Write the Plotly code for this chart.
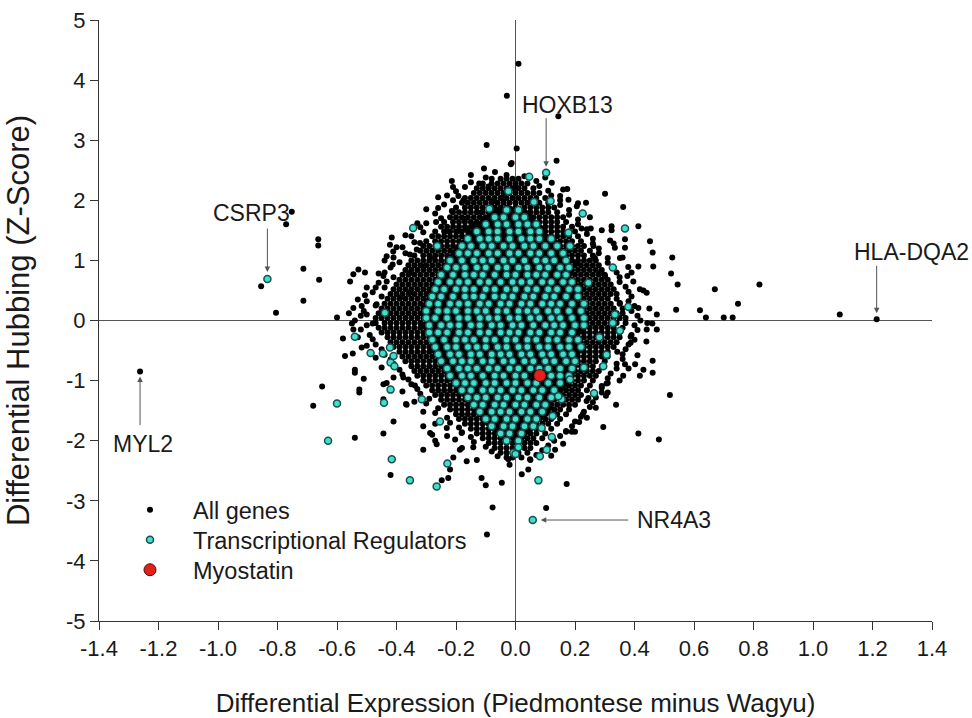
import plotly.graph_objects as go

# ------------------------------------------------------------------
# DATA
# ------------------------------------------------------------------
# Dense part of the "All genes" cloud, read row by row.
# Each line: "y: x x x ..." with both values multiplied by 100.
ALL_GENES_CLOUD = """
236: -8 -5 -3 -1 1
228: -11 -8 -6 -4 -2 0 2 4
220: -13 -11 -9 -7 -5 -3 -1 1 3 6
212: -14 -12 -10 -8 -6 -4 -2 0 2 4 6 8
204: -17 -15 -13 -11 -9 -7 -5 -3 -1 1 3 5 7 10
196: -18 -16 -14 -12 -10 -8 -6 -4 -2 0 2 4 6 8 11
188: -20 -17 -15 -13 -11 -9 -7 -5 -3 0 3 5 7 9 11 13
180: -21 -19 -17 -15 -13 -11 -9 -7 -5 -1 3 5 7 9 11 14
172: -22 -20 -18 -16 -14 -12 -10 -8 -6 -2 2 4 6 8 10 12 14 16
164: -24 -21 -19 -17 -15 -13 -11 -9 -5 -1 3 6 8 10 12 14 17
156: -25 -23 -21 -19 -17 -15 -13 -11 -7 -3 1 5 8 10 12 14 16 19
148: -27 -24 -22 -20 -18 -16 -14 -12 -8 -4 0 4 8 10 12 14 16 18 20
140: -28 -26 -24 -22 -20 -18 -16 -14 -10 -6 -2 2 6 10 12 14 16 18 21
132: -30 -27 -25 -23 -21 -19 -17 -15 -11 -7 -3 1 5 9 11 13 15 17 19 22
124: -31 -29 -27 -25 -23 -21 -19 -17 -13 -9 -5 -1 3 7 11 13 15 17 19 21 23
116: -32 -30 -28 -26 -24 -22 -20 -18 -14 -10 -6 -2 2 6 10 14 16 18 20 22 25
108: -34 -31 -29 -27 -25 -23 -21 -19 -15 -11 -7 -3 1 5 9 13 15 17 19 21 23 26
100: -35 -33 -31 -29 -27 -25 -23 -21 -17 -13 -9 -5 -1 3 7 11 15 17 19 21 23 25 27
92: -36 -34 -32 -30 -28 -26 -24 -22 -20 -16 -12 -8 -4 0 4 8 12 16 18 20 22 24 26 28
84: -37 -35 -33 -31 -29 -27 -25 -23 -21 -17 -13 -9 -5 -1 3 7 11 15 17 19 21 23 25 27 29
76: -38 -36 -34 -32 -30 -28 -26 -24 -20 -16 -12 -8 -4 0 4 8 12 16 18 20 22 24 26 28 30
68: -39 -37 -35 -33 -31 -29 -27 -25 -21 -17 -13 -9 -5 -1 3 7 11 15 19 21 23 25 27 29 31
60: -40 -38 -36 -34 -32 -30 -28 -26 -24 -20 -16 -12 -8 -4 0 4 8 12 16 18 20 22 24 26 28 30 32
52: -41 -39 -37 -35 -33 -31 -29 -27 -25 -21 -17 -13 -9 -5 -1 3 7 11 15 19 21 23 25 27 29 31 33
44: -42 -40 -38 -36 -34 -32 -30 -28 -26 -22 -18 -14 -10 -6 -2 2 6 10 14 18 20 22 24 26 28 30 32 34
36: -43 -41 -39 -37 -35 -33 -31 -29 -27 -23 -19 -15 -11 -7 -3 1 5 9 13 17 21 23 25 27 29 31 34
28: -44 -42 -40 -38 -36 -34 -32 -30 -28 -24 -20 -16 -12 -8 -4 0 4 8 12 16 20 22 24 26 28 30 32 35
20: -45 -43 -41 -39 -37 -35 -33 -31 -29 -25 -21 -17 -13 -9 -5 -1 3 7 11 15 19 21 23 25 27 29 31 33 36
12: -46 -44 -42 -40 -38 -36 -34 -32 -30 -28 -24 -20 -16 -12 -8 -4 0 4 8 12 16 20 22 24 26 28 30 32 34 36
4: -47 -45 -43 -41 -39 -37 -35 -33 -31 -29 -25 -21 -17 -13 -9 -5 -1 3 7 11 15 19 21 23 25 27 29 31 33 35 37
-4: -47 -44 -42 -40 -38 -36 -34 -32 -30 -28 -24 -20 -16 -12 -8 -4 0 4 8 12 16 20 22 24 26 28 30 32 34 37
-12: -46 -44 -42 -40 -38 -36 -34 -32 -30 -28 -24 -20 -16 -12 -8 -4 0 4 8 12 16 21 23 25 27 29 31 33 36
-20: -45 -43 -41 -39 -37 -35 -33 -31 -29 -27 -23 -19 -15 -11 -7 -3 1 5 9 13 17 21 23 25 27 29 31 33 35
-28: -43 -41 -39 -37 -35 -33 -31 -29 -27 -25 -21 -17 -13 -9 -5 -1 3 7 11 15 19 21 23 25 27 29 31 33 35
-36: -42 -40 -38 -36 -34 -32 -30 -28 -26 -22 -18 -14 -10 -6 -2 2 6 10 14 18 20 22 24 26 28 30 32 34
-44: -41 -39 -37 -35 -33 -31 -29 -27 -25 -21 -17 -13 -9 -5 -1 3 7 11 15 19 21 23 25 27 29 31 33
-52: -39 -37 -35 -33 -31 -29 -27 -25 -23 -19 -15 -11 -7 -3 1 5 9 13 17 19 21 23 25 27 29 31
-60: -38 -36 -34 -32 -30 -28 -26 -24 -20 -16 -12 -8 -4 0 4 8 12 16 19 21 23 25 27 29 31
-68: -37 -35 -33 -31 -29 -27 -25 -23 -19 -15 -11 -7 -3 1 5 9 13 17 19 21 23 25 27 30
-76: -35 -33 -31 -29 -27 -25 -23 -21 -17 -13 -9 -5 -1 3 7 11 15 18 20 22 24 26 29
-84: -34 -32 -30 -28 -26 -24 -22 -20 -16 -12 -8 -4 0 4 8 12 16 18 20 22 24 26 28
-92: -33 -31 -29 -27 -25 -23 -21 -17 -13 -9 -5 -1 3 7 11 15 17 19 21 23 25 27
-100: -31 -29 -27 -25 -23 -21 -19 -15 -11 -7 -3 1 5 9 13 15 17 19 21 23 26
-108: -30 -28 -26 -24 -22 -20 -18 -14 -10 -6 -2 2 6 10 14 16 18 20 22 25
-116: -28 -26 -24 -22 -20 -18 -16 -12 -8 -4 0 4 8 12 13 15 17 19 21 24
-124: -27 -25 -23 -21 -19 -17 -15 -11 -7 -3 1 5 9 12 14 16 18 20 22
-132: -25 -23 -21 -19 -17 -15 -13 -9 -5 -1 3 7 11 13 15 17 19 21
-140: -24 -22 -20 -18 -16 -14 -12 -8 -4 0 4 8 10 12 14 16 18 20
-148: -22 -20 -18 -16 -14 -12 -10 -6 -2 2 6 9 11 13 15 18
-156: -20 -18 -16 -14 -12 -10 -6 -2 2 6 8 10 12 14 17
-164: -19 -17 -15 -13 -11 -9 -5 -1 3 6 8 10 12 15
-172: -17 -15 -13 -11 -9 -7 -3 1 5 7 9 11 14
-180: -15 -13 -11 -9 -7 -5 -1 3 5 7 9 12
-188: -13 -11 -9 -7 -5 -2 1 3 5 7 10
-196: -11 -9 -7 -5 -3 0 2 4 6 9
-204: -9 -7 -5 -3 -1 1 3 5 7
-212: -7 -5 -3 -1 1 3 5
-220: -5 -3 -1 1 4
-228: -3 -1 2
"""

# Black genes packed between the regulators in the middle of the cloud (same format)
ALL_GENES_CORE = """
184: -5 -2 1
176: -8 -5 -2 1 4
168: -10 -7 -4 -1 2 5
160: -11 -8 -5 -2 1 4 7
152: -13 -10 -7 -4 -1 2 5 8
144: -15 -12 -9 -6 -3 0 3 6 9
136: -16 -13 -10 -7 -4 -1 2 5 8 11
128: -17 -14 -11 -8 -5 -2 1 4 7 10 13
120: -19 -16 -13 -10 -7 -4 -1 2 5 8 11 14
112: -20 -17 -14 -11 -8 -5 -2 1 4 7 10 13 16
104: -21 -18 -15 -12 -9 -6 -3 0 3 6 9 12 15
96: -22 -19 -16 -13 -10 -7 -4 -1 2 5 8 11 14 17
88: -23 -20 -17 -14 -11 -8 -5 -2 1 4 7 10 13 16
80: -24 -21 -18 -15 -12 -9 -6 -3 0 3 6 9 12 15 18
72: -25 -22 -19 -16 -13 -10 -7 -4 -1 2 5 8 11 14 17
64: -26 -23 -20 -17 -14 -11 -8 -5 -2 1 4 7 10 13 16 19
56: -27 -24 -21 -18 -15 -12 -9 -6 -3 0 3 6 9 12 15 18
48: -28 -25 -22 -19 -16 -13 -10 -7 -4 -1 2 5 8 11 14 17 20
40: -27 -24 -21 -18 -15 -12 -9 -6 -3 0 3 6 9 12 15 18 21
32: -29 -26 -23 -20 -17 -14 -11 -8 -5 -2 1 4 7 10 13 16 19
24: -30 -27 -24 -21 -18 -15 -12 -9 -6 -3 0 3 6 9 12 15 18 21
16: -29 -26 -23 -20 -17 -14 -11 -8 -5 -2 1 4 7 10 13 16 19 22
8: -30 -27 -24 -21 -18 -15 -12 -9 -6 -3 0 3 6 9 12 15 18 21
0: -29 -26 -23 -20 -17 -14 -11 -8 -5 -2 1 4 7 10 13 16 19 22
-8: -30 -27 -24 -21 -18 -15 -12 -9 -6 -3 0 3 6 9 12 15 18 21
-16: -29 -26 -23 -20 -17 -14 -11 -8 -5 -2 1 4 7 10 13 16 19 22
-24: -28 -25 -22 -19 -16 -13 -10 -7 -4 -1 2 5 8 11 14 17 20
-32: -27 -24 -21 -18 -15 -12 -9 -6 -3 0 3 6 9 12 15 18 21
-40: -26 -23 -20 -17 -14 -11 -8 -5 -2 1 4 7 10 13 16 19
-48: -27 -24 -21 -18 -15 -12 -9 -6 -3 0 3 6 9 12 15 18 21
-56: -25 -22 -19 -16 -13 -10 -7 -4 -1 2 5 8 11 14 17 20
-64: -24 -21 -18 -15 -12 -9 -6 -3 0 3 6 9 12 15 18
-72: -23 -20 -17 -14 -11 -8 -5 -2 1 4 7 10 13 16 19
-80: -22 -19 -16 -13 -10 -7 -4 -1 2 5 8 11 14 17
-88: -21 -18 -15 -12 -9 -6 -3 0 3 6 9 12 15 18
-96: -20 -17 -14 -11 -8 -5 -2 1 4 7 10 13 16
-104: -19 -16 -13 -10 -7 -4 -1 2 5 8 11 14 17
-112: -18 -15 -12 -9 -6 -3 0 3 6 9 12 15
-120: -17 -14 -11 -8 -5 -2 1 4 7 10 13
-128: -15 -12 -9 -6 -3 0 3 6 9 12
-136: -14 -11 -8 -5 -2 1 4 7 10
-144: -13 -10 -7 -4 -1 2 5 8 11
-152: -11 -8 -5 -2 1 4 7 10
-160: -10 -7 -4 -1 2 5 8
-168: -9 -6 -3 0 3 6
-176: -8 -5 -2 1 4
-184: -6 -3 0 3
-192: -4 -1 2
"""

# Scattered "All genes" points around and outside the dense cloud
ALL_GENES_X = [
    # upper-left outskirts
    -0.097, 0.004, -0.106, -0.069, -0.016, -0.214, -0.122, -0.091, -0.192, -0.175,
    -0.214, -0.267, -0.416, -0.422, -0.411, -0.433, -0.413, -0.528, -0.506, -0.545,
    -0.556, -0.444, -0.433, -0.506, -0.545, -0.517, -0.467, -0.388, -0.355, -0.332,
    -0.355, -0.321, -0.231, -0.192, -0.166, -0.136, -0.170, -0.114, -0.075, -0.046,
    0.000, -0.287, -0.310, -0.355,
    # upper-right outskirts
    0.138, -0.013, 0.122, 0.174, 0.301, 0.362, 0.413, 0.323, 0.323, 0.253,
    0.222, 0.237, 0.206, 0.150, 0.178, 0.318, 0.368, 0.452, 0.368, 0.334,
    0.461, 0.527, 0.351, 0.463, 0.523, 0.545, 0.413, 0.379, 0.376, 0.396,
    0.418, 0.441, 0.413, 0.540, 0.475, 0.351, 0.267, 0.262, 0.284, 0.301, 0.206,
    # lower-left outskirts
    -0.545, -0.573, -0.547, -0.517, -0.540, -0.540, -0.510, -0.525, -0.525, -0.444,
    -0.433, -0.444, -0.368, -0.338, -0.377, -0.410, -0.444, -0.540, -0.420, -0.310,
    -0.280, -0.270, -0.220, -0.248, -0.226, -0.209, -0.187, -0.164, -0.142, -0.114,
    -0.100, -0.077, -0.046, -0.024, -0.287, -0.231, -0.203, -0.181, -0.310, -0.265, -0.366,
    # lower-right outskirts
    0.519, 0.413, 0.482, 0.295, 0.338, 0.304, 0.245, 0.226, 0.214, 0.189,
    0.170, 0.133, 0.172, 0.103, 0.021, 0.043, 0.049, 0.368, 0.402, 0.430,
    0.461, 0.461, 0.362, 0.418, 0.387, 0.387, 0.342, 0.443, 0.441, 0.475,
    0.306, 0.290, 0.239,
    # far outliers
    -1.262, -0.855, -0.752, -0.771, -0.663, -0.663, -0.713, -0.660, -0.805, -0.713,
    -0.680, -0.650, 0.144, 0.010, -0.029, 1.214, 1.090, 0.820, 0.748, 0.730,
    0.670, 0.620, 0.640, 0.700, -0.096, -0.580, -0.600, -0.480, -0.500, -0.470,
    # fringe just outside the dense edge, left side
    -0.03, -0.10, -0.15, -0.17, -0.20, -0.23, -0.21, -0.24, -0.26, -0.27,
    -0.25, -0.30, -0.32, -0.31, -0.35, -0.34, -0.38, -0.37, -0.41, -0.39,
    -0.42, -0.44, -0.41, -0.46, -0.44, -0.48, -0.45, -0.50, -0.47, -0.51,
    -0.52, -0.54, -0.50, -0.52, -0.49, -0.48, -0.47, -0.45, -0.44, -0.42,
    -0.41, -0.39, -0.38, -0.36, -0.35, -0.33, -0.32, -0.29, -0.30, -0.26,
    -0.27, -0.23, -0.22, -0.19, -0.18, -0.15, -0.14, -0.10, -0.08, -0.06, -0.02,
    # fringe just outside the dense edge, right side
    0.03, 0.07, 0.08, 0.11, 0.12, 0.15, 0.15, 0.18, 0.18, 0.21,
    0.21, 0.24, 0.24, 0.26, 0.26, 0.28, 0.28, 0.31, 0.31, 0.33,
    0.34, 0.35, 0.35, 0.37, 0.38, 0.39, 0.38, 0.40, 0.39, 0.41,
    0.42, 0.40, 0.41, 0.39, 0.40, 0.38, 0.37, 0.36, 0.36, 0.34,
    0.34, 0.32, 0.31, 0.31, 0.29, 0.29, 0.27, 0.26, 0.25, 0.23,
    0.22, 0.20, 0.19, 0.17, 0.15, 0.13, 0.11, 0.09, 0.07, 0.05,
    # looser halo further out
    -0.50, -0.53, -0.56, -0.55, -0.53, -0.50, -0.47, -0.45, -0.41, -0.38,
    -0.34, -0.31, -0.27, -0.23, -0.18, -0.13, -0.46, -0.44, -0.40, -0.37,
    -0.33, -0.30, -0.26, -0.21, -0.15,
    0.43, 0.45, 0.46, 0.44, 0.41, 0.38, 0.35, 0.31, 0.27, 0.24,
    0.20, 0.16, 0.12, 0.39, 0.36, 0.33, 0.29, 0.25, 0.21, 0.16, 0.10,
]
ALL_GENES_Y = [
    2.92, 2.86, 2.53, 2.47, 2.60, 2.32, 2.28, 2.23, 2.07, 2.00,
    1.82, 1.64, 1.38, 1.26, 1.15, 1.07, 0.93, 0.85, 0.80, 0.77,
    0.65, 0.74, 0.65, 0.42, 0.21, 0.24, 0.27, 0.38, 0.46, 1.18,
    1.10, 1.29, 1.49, 1.49, 1.53, 1.60, 1.69, 1.80, 1.99, 2.04,
    2.23, 1.04, 0.90, 0.79,
    2.66, 2.62, 2.29, 2.19, 2.11, 1.89, 1.57, 1.57, 1.50, 1.53,
    1.53, 1.96, 1.90, 2.07, 2.01, 1.33, 1.35, 1.32, 1.21, 1.21,
    1.13, 1.05, 1.04, 0.90, 0.78, 0.60, 0.90, 0.89, 0.74, 0.65,
    0.52, 0.46, 0.21, 0.18, 0.10, 0.29, 1.04, 1.24, 0.79, 0.74, 0.96,
    -0.15, -0.59, -0.55, -0.45, -0.82, -0.87, -0.97, -1.15, -1.20, -1.06,
    -1.04, -1.31, -1.39, -1.08, -0.95, -1.68, -1.88, -1.95, -2.57, -2.15,
    -1.90, -2.00, -2.48, -2.66, -2.62, -2.28, -2.15, -2.34, -2.11, -2.62,
    -2.74, -3.11, -2.70, -2.31, -1.87, -1.79, -1.98, -1.87, -1.76, -2.06, -1.40,
    -1.24, -1.88, -1.98, -1.77, -1.40, -1.25, -1.29, -1.56, -1.69, -1.85,
    -1.85, -2.15, -2.72, -3.12, -2.56, -2.48, -2.31, -0.73, -0.73, -0.82,
    -0.87, -0.67, -0.92, -0.92, -0.37, -0.27, -0.52, -0.04, -0.15, -0.15,
    -1.05, -1.09, -1.34,
    -0.85, 0.57, 1.81, 1.60, 1.35, 1.25, 0.86, 0.68, 0.13, 0.33,
    -1.42, -1.10, 3.40, 4.27, 3.74, 0.02, 0.10, 0.60, 0.28, 0.05,
    0.52, 0.17, 0.05, 0.05, -3.56, -0.30, 0.05, -0.05, 0.10, 0.55,
    2.42, 2.38, 2.30, 2.22, 2.15, 2.08, 2.00, 1.93, 1.87, 1.78,
    1.70, 1.62, 1.55, 1.47, 1.40, 1.30, 1.22, 1.12, 1.05, 0.97,
    0.88, 0.80, 0.72, 0.63, 0.55, 0.47, 0.40, 0.32, 0.25, 0.16,
    0.08, 0.00, -0.08, -0.15, -0.24, -0.31, -0.40, -0.48, -0.57, -0.65,
    -0.72, -0.82, -0.90, -0.98, -1.06, -1.14, -1.22, -1.30, -1.38, -1.46,
    -1.54, -1.62, -1.70, -1.78, -1.86, -1.94, -2.02, -2.10, -2.18, -2.26, -2.40,
    2.40, 2.32, 2.24, 2.16, 2.08, 2.00, 1.92, 1.84, 1.76, 1.68,
    1.60, 1.52, 1.44, 1.36, 1.28, 1.20, 1.12, 1.04, 0.96, 0.88,
    0.80, 0.72, 0.64, 0.56, 0.48, 0.40, 0.32, 0.24, 0.16, 0.08,
    0.00, -0.08, -0.16, -0.24, -0.32, -0.40, -0.48, -0.56, -0.64, -0.72,
    -0.80, -0.88, -0.96, -1.04, -1.12, -1.20, -1.28, -1.36, -1.44, -1.52,
    -1.60, -1.68, -1.76, -1.84, -1.92, -2.00, -2.08, -2.16, -2.24, -2.32,
    0.55, 0.35, 0.12, -0.05, -0.28, -0.42, -0.62, -0.78, -0.95, -1.18,
    -1.35, -1.52, -1.72, -1.92, -2.12, -2.32, 0.78, 1.00, 1.22, 1.42,
    1.62, 1.85, 2.05, 2.22, 2.42,
    0.50, 0.20, -0.05, -0.35, -0.58, -0.80, -1.00, -1.20, -1.45, -1.62,
    -1.85, -2.05, -2.25, 0.80, 1.05, 1.28, 1.50, 1.72, 1.95, 2.18, 2.38,
]

# Dense core of the Transcriptional Regulators, row by row ("y: x x x", x100)
TR_CLOUD = """
184: -3 1
172: -7 -4 0 3
160: -10 -6 -3 1 4 7
148: -13 -9 -6 -2 1 5 8
136: -16 -12 -9 -6 -2 2 5 8 12
124: -18 -15 -11 -8 -4 -1 3 6 10 14
112: -19 -16 -13 -9 -6 -2 1 5 8 12 16
100: -22 -18 -14 -11 -8 -4 -1 3 7 10 13 17
88: -23 -20 -17 -13 -10 -6 -3 1 4 8 11 15 18
76: -25 -21 -17 -14 -11 -7 -3 0 4 7 10 14 17
64: -26 -22 -19 -16 -12 -9 -5 -1 2 5 9 12 16 19
52: -27 -24 -20 -17 -14 -10 -7 -3 0 4 7 11 14 18 21
40: -28 -25 -21 -17 -14 -11 -7 -4 -1 3 6 10 13 17 21
28: -29 -26 -22 -19 -16 -12 -9 -5 -2 2 5 9 12 15 19 23
16: -30 -26 -23 -20 -16 -13 -10 -6 -3 1 4 7 11 14 18 22
4: -30 -27 -23 -19 -16 -12 -9 -6 -2 1 5 8 12 15 19 23
-8: -29 -25 -22 -19 -15 -12 -8 -5 -1 2 6 10 13 16 20 23
-20: -29 -26 -23 -19 -16 -12 -9 -5 -2 1 5 8 12 15 19
-32: -28 -24 -20 -17 -14 -10 -7 -3 0 4 7 11 14 18 21
-44: -27 -23 -20 -16 -13 -10 -6 -3 1 4 8 11 15 18 22
-56: -26 -22 -19 -15 -12 -8 -5 -2 2 5 9 12 16 19
-68: -25 -21 -18 -15 -11 -8 -4 -1 3 6 10 13 17 20
-80: -23 -19 -16 -13 -9 -6 -2 1 5 8 11 15 19
-92: -22 -18 -15 -11 -7 -4 0 3 12 15 18
-104: -20 -17 -14 -10 -7 -3 0 4 7 11 15
-116: -18 -15 -11 -8 -5 -1 2 6 9 13
-128: -16 -13 -10 -6 -3 1 4 8 12
-140: -14 -11 -7 -4 0 3 7 10
-152: -12 -8 -5 -2 2 5 9
-164: -10 -7 -3 0 4 7
-176: -8 -4 -1 3 6
-188: -5 -2 2
-200: -3 1
"""

# Scattered Transcriptional Regulators
TR_X = [
    -0.344, -0.439, -0.263, -0.088, -0.024,
    0.103, 0.046, 0.368, 0.226, 0.118, 0.062, 0.327, 0.379, 0.178, 0.183, 0.245, 0.334,
    -0.540, -0.487, -0.446, -0.422, -0.410, -0.420, -0.407, -0.420, -0.442, -0.315,
    -0.416, -0.355, -0.265, -0.254, -0.229, -0.007,
    0.264, 0.125, 0.122, 0.105, 0.082, 0.077, 0.000, 0.010, 0.295, 0.230,
    0.306, 0.282, 0.351, 0.327, 0.183, 0.155, 0.144, 0.088,
    -0.834, 0.058, -0.600, -0.630,
]
TR_Y = [
    1.54, 0.13, 1.24, 1.86, 2.15,
    2.46, 2.39, 1.53, 1.78, 1.99, 1.97, 0.88, 0.23, 1.46, 1.24, 0.63, 0.10,
    -0.27, -0.54, -0.55, -0.45, -0.59, -0.70, -0.76, -1.15, -1.37, -1.31,
    -2.31, -2.66, -2.76, -1.68, -2.38, -2.20,
    -1.21, -1.59, -1.94, -2.15, -2.26, -2.66, -2.22, -2.11, -0.76, -0.78,
    -0.57, -0.28, -0.17, -0.04, -0.98, -1.31, -1.26, -1.79,
    0.69, -3.32, -1.38, -2.00,
]

MYOSTATIN_X = [0.082]
MYOSTATIN_Y = [-0.915]

# Genes that carry a text label
LABEL_GENES = ["MYL2", "CSRP3", "HOXB13", "HLA-DQA2", "NR4A3"]
LABEL_X = [-1.262, -0.834, 0.103, 1.214, 0.058]
LABEL_Y = [-0.85, 0.69, 2.46, 0.02, -3.32]

X_TICKS = [-1.4, -1.2, -1.0, -0.8, -0.6, -0.4, -0.2, 0.0, 0.2, 0.4, 0.6, 0.8, 1.0, 1.2, 1.4]
X_TICK_LABELS = ["-1.4", "-1.2", "-1.0", "-0.8", "-0.6", "-0.4", "-0.2", "0.0",
                 "0.2", "0.4", "0.6", "0.8", "1.0", "1.2", "1.4"]
Y_TICKS = [-5, -4, -3, -2, -1, 0, 1, 2, 3, 4, 5]
Y_TICK_LABELS = ["-5", "-4", "-3", "-2", "-1", "0", "1", "2", "3", "4", "5"]


def parse_rows(text):
    xs, ys = [], []
    for line in text.strip().splitlines():
        yv, rest = line.split(":")
        for v in rest.split():
            xs.append(int(v) / 100.0)
            ys.append(int(yv) / 100.0)
    return xs, ys


cx, cy = parse_rows(ALL_GENES_CLOUD)
kx, ky = parse_rows(ALL_GENES_CORE)
all_x = cx + ALL_GENES_X
all_y = cy + ALL_GENES_Y
tx, ty = parse_rows(TR_CLOUD)
tr_x = tx + TR_X
tr_y = ty + TR_Y

FONT = "Liberation Sans, Arial, sans-serif"
TEXT_COLOR = "#1a1a1a"

fig = go.Figure()
# genes hidden under the regulators: drawn a bit larger so they close every gap
fig.add_trace(go.Scatter(
    x=kx, y=ky, mode="markers", name="All genes", legendgroup="all",
    showlegend=False, hoverinfo="skip",
    marker=dict(size=9, color="black", line=dict(width=0)),
))
fig.add_trace(go.Scatter(
    x=all_x, y=all_y, mode="markers", name="All genes", legend="legend",
    legendgroup="all",
    marker=dict(size=6, color="black", line=dict(width=0)),
))
fig.add_trace(go.Scatter(
    x=tr_x, y=tr_y, mode="markers", name="Transcriptional Regulators", legend="legend2",
    marker=dict(size=7, color="#3fe0cc", line=dict(width=1.5, color="#1b4f4f")),
))
fig.add_trace(go.Scatter(
    x=MYOSTATIN_X, y=MYOSTATIN_Y, mode="markers", name="Myostatin", legend="legend3",
    marker=dict(size=12, color="#e3201b", line=dict(width=1, color="#5a0a0a")),
))

# arrows (tail offsets in px) and label offsets (px) for each labelled gene
arrow_cfg = {
    "MYL2": dict(ax=0, ay=55, standoff=5),
    "CSRP3": dict(ax=0, ay=-52, standoff=7),
    "HOXB13": dict(ax=0, ay=-56, standoff=6),
    "HLA-DQA2": dict(ax=0, ay=-55, standoff=6),
    "NR4A3": dict(ax=97, ay=0, standoff=8),
}
label_cfg = {
    "MYL2": dict(xshift=3, yshift=-72, xanchor="center"),
    "CSRP3": dict(xshift=-16, yshift=66, xanchor="center"),
    "HOXB13": dict(xshift=21, yshift=68, xanchor="center"),
    "HLA-DQA2": dict(xshift=35, yshift=67, xanchor="center"),
    "NR4A3": dict(xshift=102, yshift=0, xanchor="left"),
}
for g, gx, gy in zip(LABEL_GENES, LABEL_X, LABEL_Y):
    a = arrow_cfg[g]
    fig.add_annotation(x=gx, y=gy, text="", showarrow=True, ax=a["ax"], ay=a["ay"],
                       standoff=a["standoff"], arrowhead=2, arrowsize=1.1,
                       arrowwidth=1, arrowcolor="#555555")
    lc = label_cfg[g]
    fig.add_annotation(x=gx, y=gy, text=g, showarrow=False, xshift=lc["xshift"],
                       yshift=lc["yshift"], xanchor=lc["xanchor"], yanchor="middle",
                       font=dict(family=FONT, size=23, color=TEXT_COLOR))

legend_common = dict(x=0.0096, xanchor="left", yanchor="middle",
                     font=dict(family=FONT, size=23.5, color=TEXT_COLOR),
                     itemwidth=76, bgcolor="rgba(0,0,0,0)")

fig.update_layout(
    width=972, height=718,
    margin=dict(l=99, r=40, t=20, b=97),
    paper_bgcolor="white", plot_bgcolor="white",
    font=dict(family=FONT, color=TEXT_COLOR),
    showlegend=True,
    legend=dict(y=0.1847, **legend_common),
    legend2=dict(y=0.1348, **legend_common),
    legend3=dict(y=0.0849, **legend_common),
    xaxis=dict(
        range=[-1.4, 1.4], tickvals=X_TICKS, ticktext=X_TICK_LABELS,
        showgrid=False, zeroline=True, zerolinecolor="#555555", zerolinewidth=1,
        showline=True, linecolor="#333333", linewidth=1,
        ticks="outside", ticklen=8, tickcolor="#333333",
        tickfont=dict(family=FONT, size=22), automargin=False,
        title=dict(text="Differential Expression (Piedmontese minus Wagyu)",
                   font=dict(family=FONT, size=26), standoff=38),
    ),
    yaxis=dict(
        range=[-5, 5], tickvals=Y_TICKS, ticktext=Y_TICK_LABELS,
        showgrid=False, zeroline=True, zerolinecolor="#555555", zerolinewidth=1,
        showline=True, linecolor="#333333", linewidth=1,
        ticks="outside", ticklen=8, tickcolor="#333333",
        tickfont=dict(family=FONT, size=22), automargin=False,
        title=dict(text="Differential Hubbing (Z-Score)",
                   font=dict(family=FONT, size=31), standoff=27),
    ),
)

fig.write_html("out.html")
